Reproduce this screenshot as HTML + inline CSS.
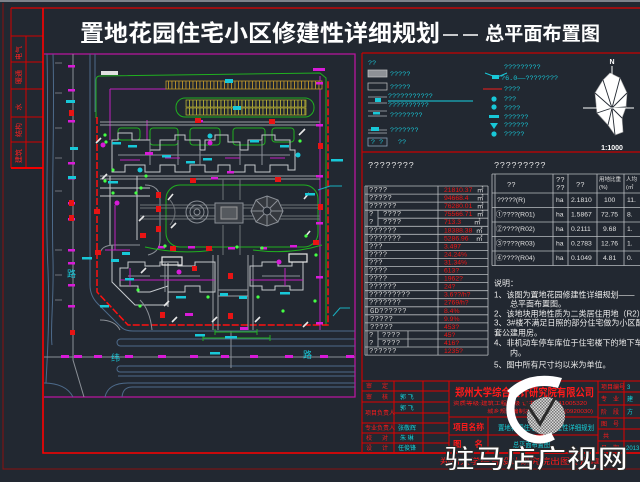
<!DOCTYPE html>
<html><head><meta charset="utf-8">
<style>
html,body{margin:0;padding:0;background:#222831;}
body{width:640px;height:482px;overflow:hidden}
svg{display:block}
.s{font-family:"Liberation Sans","Noto Sans CJK SC",sans-serif}
.m{font-family:"Liberation Mono","Noto Sans CJK SC",monospace}
</style></head><body>
<svg width="640" height="482" viewBox="0 0 640 482" xmlns="http://www.w3.org/2000/svg">
<defs>
<clipPath id="site"><rect x="44" y="54" width="311" height="343"/></clipPath>
<pattern id="stall" width="3.5" height="10" patternUnits="userSpaceOnUse"><rect width="3.5" height="10" fill="#222831"/><rect width="0.9" height="10" fill="#c0962a"/></pattern>
<pattern id="stall2" width="3.5" height="10" patternUnits="userSpaceOnUse"><rect width="3.5" height="10" fill="#222831"/><rect width="0.9" height="10" fill="#b8b034"/></pattern>
<pattern id="chk" width="3" height="3" patternUnits="userSpaceOnUse"><rect width="3" height="3" fill="#d8d8d8"/><rect width="1.5" height="1.5" fill="#777"/><rect x="1.5" y="1.5" width="1.5" height="1.5" fill="#777"/></pattern>
</defs>
<rect width="640" height="482" fill="#222831"/>
<rect x="0" y="0" width="640" height="2" fill="#7d828a"/>

<!-- frames -->
<g fill="none">
<path d="M3,3 V469 H640" stroke="#8c1010" stroke-width="1"/>
<path d="M11,8 H640" stroke="#e00000" stroke-width="1.2"/>
<path d="M11,8 V168 M26,36 V168" stroke="#d40000" stroke-width="1"/>
<path d="M11,36 H43 M11,62 H43 M11,89 H43 M11,117 H43 M11,142 H43" stroke="#d40000"/>
<path d="M11,168 H43" stroke="#f00000" stroke-width="2"/>
<path d="M43,8 V453 H640" stroke="#ff0000" stroke-width="1.6"/>
<path d="M44,54 H355 V397 H44" stroke="#b8169e" stroke-width="1.3"/>
<path d="M362,53 V453 M362,53 H640 M362,152 H640" stroke="#c80000" stroke-width="1.2"/>
</g>

<!-- left strip text (rotated) -->
<g class="s" fill="#ff2020" font-size="7" text-anchor="middle">
<text transform="translate(21,53) rotate(-90)">电气</text>
<text transform="translate(21,77) rotate(-90)">暖通</text>
<text transform="translate(21,107) rotate(-90)">水</text>
<text transform="translate(21,130) rotate(-90)">结构</text>
<text transform="translate(21,156) rotate(-90)">建筑</text>
</g>

<!-- title -->
<text class="s" x="80" y="41" font-size="23" font-weight="bold" fill="#ffffff" textLength="360" lengthAdjust="spacingAndGlyphs">置地花园住宅小区修建性详细规划</text>
<path d="M443,35 H458 M463,35 H478" stroke="#fff" stroke-width="1.5"/>
<text class="s" x="485" y="40" font-size="19" font-weight="bold" fill="#ffffff" textLength="115" lengthAdjust="spacingAndGlyphs">总平面布置图</text>

<!-- SITE PLAN -->
<g clip-path="url(#site)" fill="none" stroke-width="1">
<path stroke="#4d6a8a" d="M47,54 C49,130 45,210 48,270 C50,320 47,360 46,383"/>
<path stroke="#4d6a8a" d="M53,54 C55,120 51,200 53,260 C54,300 50,330 52,345"/>
<path stroke="#4d6a8a" d="M43,383 Q66,383 73,397"/>
<path stroke="#8a8f96" d="M73,54 V360 L84,397"/>
<path stroke="#4d6a8a" d="M90,54 V285 Q90,296 98,304 L121,327 Q125,331 133,331 H355"/>
<path stroke="#4d6a8a" d="M95,54 V112"/>
<g stroke="#8a8f96" stroke-width="0.8"><path d="M55,63 H62 M55,93 H62 M55,128 H62 M55,158 H62 M55,191 H62 M55,250 H62 M55,275 H62 M55,300 H62"/></g>
<rect x="117" y="339" width="260" height="7" rx="3.5" stroke="#4d6a8a"/>
<path stroke="#8a8f96" d="M44,357 H355"/>
<rect x="117" y="366" width="260" height="6" rx="3" stroke="#4d6a8a"/>
<path stroke="#4d6a8a" d="M118,376 H355"/>
<path stroke="#4d6a8a" d="M105,397 Q108,383 128,383 H355"/>
<path stroke="#4d6a8a" d="M122,397 Q123,387 132,387 H355"/>
<path stroke="#8a8f96" d="M231,331 V368"/>
<path stroke="#20b020" d="M96,118 V80 Q96,76 100,76 L320,73 L326,78 V325"/>
<path stroke="#ff1010" stroke-width="1.5" stroke-dasharray="7,2" d="M97,117 V292 L128,325 H328 V80"/>
<path stroke="#c020c0" d="M110,89 H166 M110,89 V140 M147,120 V140 M320,76 V330"/>
<rect x="166" y="81" width="156" height="8" fill="url(#stall)" stroke="#c0962a" stroke-width="0.8"/>
<rect x="176" y="98" width="138" height="19" rx="9" stroke="#20b020"/>
<rect x="186" y="100" width="120" height="7" fill="url(#stall2)" stroke="#b8b034" stroke-width="0.7"/>
<rect x="186" y="108" width="120" height="7" fill="url(#stall2)" stroke="#b8b034" stroke-width="0.7"/>
<path stroke="#9a9ea4" d="M100,122 H320 M100,125 H320 M100,176 H320 M100,179 H320"/>
<g stroke="#20b020"><rect x="150" y="128" width="28" height="17" rx="3"/><rect x="190" y="128" width="30" height="17" rx="3"/><rect x="233" y="128" width="32" height="17" rx="3"/><rect x="272" y="128" width="22" height="14" rx="3"/><rect x="118" y="128" width="22" height="12" rx="3"/></g>
<polygon stroke="#c4c8cc" points="112,140 118,140 118,133 132,133 132,140 150,140 150,150 160,150 160,140 175,140 175,135 185,135 185,140 200,140 200,150 205,150 205,140 215,140 215,135 228,135 228,142 240,142 240,150 248,150 248,140 262,140 262,135 275,135 275,140 290,140 290,150 295,150 295,170 288,170 288,165 270,165 270,172 255,172 255,165 245,165 245,172 230,172 230,165 218,165 218,172 205,172 205,165 190,165 190,172 175,172 175,165 160,165 160,172 145,172 145,165 125,165 125,172 112,172"/>
<path stroke="#8a8f96" d="M118,155 H290 M150,140 V165 M200,150 V165 M240,150 V165 M262,140 V165 M178,140 V165"/>
<path stroke="#c020c0" d="M120,160 H140 M165,158 H180 M225,158 H240 M270,158 H285"/>
<path stroke="#c4c8cc" d="M110,176 V245 M137,176 V240 M100,188 H150 M100,196 H150 M112,245 V282 L135,305 H168 M168,263 V307"/>
<path stroke="#8a8f96" d="M145,185 Q160,185 160,200 V240 Q160,252 148,255 M100,255 Q100,245 115,245 H140 M140,300 Q150,310 152,330 M100,320 Q115,320 120,330"/>
<path stroke="#c020c0" d="M115,205 V250 M105,250 H130"/>
<rect x="166" y="185" width="152" height="62" rx="14" stroke="#20b020"/>
<path stroke="#6e7378" d="M140,205 H320 M140,208 H320 M140,216 H320 M140,219 H320 M223,179 V200 M240,179 V200 M223,225 V255 M240,225 V255 M170,200 Q180,212 170,225"/>
<circle cx="197" cy="212" r="11" stroke="#8a8f96"/><circle cx="197" cy="212" r="7" stroke="#8a8f96"/><circle cx="197" cy="212" r="3" stroke="#8a8f96"/>
<rect x="215" y="203" width="28" height="20" stroke="#8a8f96" fill="#3a3f46"/>
<rect x="221" y="207" width="16" height="12" stroke="#999" fill="#55595e"/>
<polygon stroke="#8a8f96" fill="#34383e" points="267,196 278,200 283,211 278,222 267,226 256,222 251,211 256,200"/>
<path stroke="#8a8f96" d="M267,196 V226 M251,211 H283 M256,200 L278,222 M278,200 L256,222"/>
<circle cx="267" cy="211" r="4" fill="#222831" stroke="#8a8f96"/>
<path stroke="#9a9ea4" d="M213,255 V330 M218,255 V330 M248,255 V330 M253,255 V330 M218,290 H248 M218,296 H248"/>
<polygon stroke="#c4c8cc" points="120,268 128,268 128,262 145,262 145,266 160,266 160,262 178,262 178,266 195,266 195,262 215,262 215,292 200,292 200,286 185,286 185,292 168,292 168,286 150,292 138,292 138,286 120,286"/>
<polygon stroke="#c4c8cc" points="250,266 262,266 262,262 278,262 278,266 292,266 292,262 303,262 303,290 290,290 290,286 275,286 275,290 262,290 262,286 250,286"/>
<path stroke="#8a8f96" d="M165,262 V292 M160,276 H200 M262,276 H300 M128,276 H150"/>
<path stroke="#c020c0" d="M120,280 H215 M250,280 H303 M130,268 V286 M285,268 V286"/>
<rect x="162" y="257" width="20" height="8" stroke="#e8e8e8" stroke-width="1.2"/>
<rect x="289" y="254" width="18" height="8" stroke="#e8e8e8" stroke-width="1.2"/>
<path stroke="#20b020" d="M145,247 Q180,255 213,250 M253,250 Q290,255 322,245 M215,332 H257 M203,338 H270 M215,329 V335 M257,329 V335 M203,335 V341 M270,335 V341"/>
<g stroke="#e8e8e8" stroke-width="1.6">
<path d="M96,143 L101,138 M168,200 L173,194 M299,135 L305,129 M171,228 L176,223 M164,306 L169,301 M212,322 L217,317 M255,322 L260,317 M305,237 L310,231 M304,199 L309,193 M139,221 L144,216 M102,179 L107,174 M141,273 L146,268 M303,327 L308,322 M172,322 L177,317"/>
</g>
</g>
<g fill="#d81bd8">
<rect x="68" y="65" width="7" height="2.5"/><rect x="68" y="89" width="7" height="2.5"/><rect x="68" y="120" width="7" height="2.5"/><rect x="68" y="162" width="7" height="2.5"/><rect x="68" y="177" width="7" height="2.5"/><rect x="68" y="202" width="7" height="2.5"/><rect x="68" y="218" width="7" height="2.5"/><rect x="68" y="249" width="7" height="2.5"/><rect x="68" y="262" width="7" height="2.5"/><rect x="68" y="284" width="7" height="2.5"/><rect x="68" y="305" width="7" height="2.5"/>
<rect x="316" y="82" width="7" height="2.5"/><rect x="316" y="124" width="7" height="2.5"/><rect x="316" y="175" width="7" height="2.5"/><rect x="316" y="222" width="7" height="2.5"/><rect x="316" y="276" width="7" height="2.5"/><rect x="316" y="322" width="7" height="2.5"/>
<rect x="61" y="355" width="8" height="3"/><rect x="74" y="355" width="8" height="3"/><rect x="94" y="355" width="8" height="3"/><rect x="125" y="355" width="8" height="3"/><rect x="158" y="355" width="8" height="3"/><rect x="190" y="355" width="8" height="3"/><rect x="221" y="355" width="8" height="3"/><rect x="250" y="355" width="8" height="3"/><rect x="285" y="355" width="8" height="3"/><rect x="320" y="355" width="8" height="3"/><rect x="346" y="355" width="8" height="3"/>
<rect x="196" y="120" width="7" height="2.5"/><rect x="227" y="171" width="7" height="2.5"/><rect x="211" y="177" width="7" height="2.5"/><rect x="145" y="152" width="8" height="3"/><rect x="158" y="246" width="7" height="2.5"/><rect x="188" y="246" width="7" height="2.5"/><rect x="228" y="247" width="7" height="2.5"/><rect x="260" y="247" width="7" height="2.5"/><rect x="290" y="245" width="7" height="2.5"/><rect x="185" y="313" width="8" height="3"/><rect x="240" y="327" width="8" height="3"/>
<circle cx="103" cy="145" r="2.5"/><circle cx="117" cy="203" r="2.5"/><circle cx="210" cy="143" r="2.5"/><circle cx="279" cy="262" r="2.5"/><circle cx="179" cy="272" r="2.5"/>
<rect x="313" y="68" width="12" height="3"/>
</g>
<g fill="#e81414">
<rect x="69" y="110" width="5" height="6"/><rect x="69" y="200" width="5" height="6"/><rect x="69" y="215" width="5" height="6"/><rect x="94" y="209" width="6" height="5"/><rect x="95" y="250" width="6" height="5"/><rect x="156" y="192" width="5" height="6"/><rect x="156" y="206" width="5" height="6"/><rect x="156" y="226" width="5" height="6"/><rect x="195" y="118" width="6" height="5"/><rect x="269" y="119" width="6" height="5"/><rect x="318" y="143" width="5" height="6"/><rect x="318" y="204" width="5" height="6"/><rect x="190" y="178" width="6" height="5"/><rect x="275" y="177" width="6" height="5"/><rect x="140" y="233" width="6" height="5"/><rect x="170" y="246" width="6" height="5"/><rect x="206" y="246" width="6" height="5"/><rect x="313" y="240" width="6" height="5"/><rect x="228" y="273" width="5" height="6"/><rect x="228" y="313" width="5" height="6"/><rect x="160" y="312" width="5" height="6"/><rect x="70" y="330" width="5" height="5"/><rect x="192" y="266" width="5" height="5"/>
</g>
<g fill="#18c8d8">
<rect x="66" y="100" width="9" height="3"/><rect x="70" y="147" width="8" height="3"/><rect x="68" y="176" width="8" height="3"/><rect x="112" y="142" width="9" height="2.5"/><rect x="128" y="145" width="9" height="2.5"/><rect x="162" y="155" width="9" height="2.5"/><rect x="186" y="161" width="9" height="2.5"/><rect x="203" y="158" width="9" height="2.5"/><rect x="233" y="106" width="8" height="4"/><rect x="250" y="140" width="9" height="2.5"/><rect x="280" y="145" width="9" height="2.5"/><rect x="111" y="259" width="8" height="3"/><rect x="125" y="278" width="9" height="2.5"/><rect x="122" y="252" width="8" height="3"/><rect x="176" y="296" width="10" height="2.5"/><rect x="220" y="293" width="8" height="3"/><rect x="239" y="296" width="8" height="3"/><rect x="280" y="292" width="10" height="2.5"/><rect x="195" y="334" width="10" height="2.5"/><rect x="225" y="336" width="12" height="2.5"/><rect x="210" y="352" width="10" height="2.5"/><rect x="331" y="159" width="12" height="2.5"/><rect x="305" y="193" width="10" height="2.5"/><rect x="100" y="305" width="9" height="2.5"/><rect x="82" y="257" width="10" height="2.5"/><rect x="225" y="79" width="8" height="4"/><rect x="108" y="181" width="10" height="2.5"/>
<circle cx="298" cy="155" r="2.5"/><circle cx="210" cy="136" r="2.5"/><circle cx="140" cy="170" r="2.5"/>
</g>
<path d="M318,190 L330,186 H342 M333,316 L340,308 H350" stroke="#18b0c0" fill="none"/>
<g fill="#44ff44">
<circle cx="105" cy="135" r="1.6"/><circle cx="106" cy="142" r="1.6"/><circle cx="113" cy="170" r="1.6"/><circle cx="105" cy="181" r="1.6"/><circle cx="113" cy="193" r="1.6"/><circle cx="136" cy="193" r="1.6"/><circle cx="141" cy="188" r="1.6"/><circle cx="146" cy="176" r="1.6"/><circle cx="165" cy="246" r="1.6"/><circle cx="237" cy="247" r="1.6"/><circle cx="262" cy="248" r="1.6"/><circle cx="306" cy="236" r="1.6"/><circle cx="316" cy="255" r="1.6"/><circle cx="315" cy="301" r="1.6"/><circle cx="283" cy="311" r="1.6"/><circle cx="140" cy="306" r="1.6"/><circle cx="138" cy="290" r="1.6"/><circle cx="208" cy="297" r="1.6"/><circle cx="258" cy="297" r="1.6"/><circle cx="300" cy="141" r="1.6"/>
</g>
<rect x="101" y="71" width="17" height="4" fill="#e0e0e0"/>
<g class="s" fill="#18c8d8" font-size="9">
<text x="67" y="277">路</text><text x="111" y="361">纬</text><text x="303" y="358">路</text>
</g>

<!-- LEGEND -->
<g class="m" fill="#18c8d8" font-size="6.8">
<text x="368" y="65">??</text>
<rect x="368" y="70" width="19" height="7" fill="#8e9196" stroke="#c8c8c8" stroke-width="0.7"/>
<text x="390" y="76">?????</text>
<rect x="368" y="83" width="19" height="7" fill="none" stroke="#c8c8c8" stroke-width="0.7"/>
<text x="390" y="89">?????</text>
<path d="M368,97 H387 M368,103 H387" stroke="#8a8f96"/><rect x="375" y="98" width="6" height="4" fill="#18c8d8"/>
<text x="388" y="98">???????????</text>
<path d="M388,101 H473" stroke="#18b0c0" stroke-width="1.2"/>
<text x="388" y="107">??????????</text>
<path d="M368,111 H387 M368,116 H387" stroke="#8a8f96"/><rect x="373" y="112" width="7" height="2.5" fill="#18c8d8"/>
<text x="390" y="117">????????</text>
<path d="M368,130 H387 M368,133 H387" stroke="#8a8f96"/><rect x="371" y="127" width="8" height="4" fill="#18c8d8"/>
<text x="390" y="132">???????</text>
<rect x="368" y="138" width="19" height="8" fill="none" stroke="#8aa0b8" stroke-width="0.8"/>
<text x="371" y="144">? ?</text>
<text x="398" y="144">??</text>
<text x="504" y="69">?????????</text>
<path d="M485,73 L493,76 H500 L507,73" stroke="#18c8d8" fill="none"/><rect x="492" y="75" width="7" height="4"/>
<text x="501" y="80">?6.0——????????</text>
<path d="M483,89 H502" stroke="#c82020" stroke-width="1.2"/>
<text x="504" y="91">????</text>
<circle cx="494" cy="99" r="2.6"/><text x="504" y="101">???</text>
<circle cx="494" cy="107" r="2.6"/><text x="504" y="110">????</text>
<rect x="489" y="115" width="10" height="3"/><text x="504" y="119">??????</text>
<path d="M490,123 H498 L494,129 Z"/><text x="504" y="127">??????</text>
<circle cx="494" cy="134" r="2.6"/><text x="504" y="136">?????</text>
</g>

<!-- north arrow -->
<text class="s" x="612" y="64" font-size="7" fill="#fff" text-anchor="middle" font-weight="bold">N</text>
<polygon points="610,73 620,78 627,93 626,107 622,118 623,132 615,135 608,125 597,113 595,93 603,80" fill="#ffffff" stroke="#aaa" stroke-width="0.6"/>
<g stroke="#222831" stroke-width="0.9" fill="none">
<path d="M612,108 L603,80 M612,108 L620,78 M612,108 L627,93 M612,108 L622,118 M612,108 L615,135 M612,108 L597,113 M612,108 L595,93 M612,108 L608,125 M612,108 L626,107"/>
</g>
<path d="M583,108 H634 M612,66 V82" stroke="#fff" stroke-width="1"/>
<text class="s" x="612" y="150" font-size="7" fill="#fff" text-anchor="middle" font-weight="bold">1:1000</text>

<g class="m" fill="#e0e0e0" font-size="9" letter-spacing="0.4">
<text x="368" y="168">????????</text>
<text x="494" y="168">?????????</text>
</g>

<!-- left table -->
<g stroke="#b8bcc0" stroke-width="0.8" fill="none">
<path d="M365,186 H488 M365,194.1 H488 M365,202.1 H488 M365,210.2 H488 M378,218.2 H488 M365,226.3 H488 M365,234.3 H488 M365,242.4 H488 M365,250.4 H488 M365,258.5 H488 M365,266.5 H488 M365,274.6 H488 M365,282.6 H488 M365,290.7 H488 M365,298.7 H488 M365,306.8 H488 M365,314.8 H488 M365,322.9 H488 M365,330.9 H488 M378,339 H488 M365,347 H488 M365,355.1 H488"/>
<path d="M365,186 V355.1 M367,186 V355.1 M438,186 V355.1 M488,186 V355.1 M378,210.2 V226.3 M378,330.9 V347 M408,330.9 V347"/>
</g>
<g class="m" fill="#d8d8d8" font-size="7.2" letter-spacing="0.3">
<text x="369" y="192">????</text>
<text x="369" y="200">?????</text>
<text x="369" y="208.1">??????</text>
<text x="369" y="216.2">?</text><text x="383" y="216.2">????</text>
<text x="369" y="224.2">?</text><text x="383" y="224.2">????</text>
<text x="369" y="232.3">??????</text>
<text x="369" y="240.3">???????</text>
<text x="369" y="248.4">???</text>
<text x="369" y="256.4">????</text>
<text x="369" y="264.5">???</text>
<text x="369" y="272.5">????</text>
<text x="369" y="280.6">????</text>
<text x="369" y="288.6">??????</text>
<text x="369" y="296.7">?????????</text>
<text x="369" y="304.7">???????</text>
<text x="370" y="312.8">GD??????</text>
<text x="370" y="320.8">?????</text>
<text x="370" y="328.9">?????</text>
<text x="369" y="336.9">?</text><text x="382" y="336.9">????</text>
<text x="369" y="345">?</text><text x="382" y="345">????</text>
<text x="369" y="353">??????</text>
</g>
<g class="s" fill="#f01414" font-size="6.8">
<text x="444" y="192">21810.37</text>
<text x="444" y="200">94668.4</text>
<text x="444" y="208.1">76280.01</text>
<text x="444" y="216.2">75566.71</text>
<text x="444" y="224.2">713.3</text>
<text x="444" y="232.3">18388.38</text>
<text x="444" y="240.3">5286.96</text>
<text x="444" y="248.4">3.497</text>
<text x="444" y="256.4">24.24%</text>
<text x="444" y="264.5">31.34%</text>
<text x="444" y="272.5">613?</text>
<text x="444" y="280.6">1962?</text>
<text x="444" y="288.6">24?</text>
<text x="444" y="296.7">3.6??/h?</text>
<text x="444" y="304.7">2769/h?</text>
<text x="444" y="312.8">8.4%</text>
<text x="444" y="320.8">9.9%</text>
<text x="444" y="328.9">453?</text>
<text x="444" y="336.9">45?</text>
<text x="444" y="345">416?</text>
<text x="444" y="353">1235?</text>
</g>
<g class="s" fill="#e0e0e0" font-size="6.5">
<text x="477" y="192">㎡</text><text x="477" y="200">㎡</text><text x="477" y="208.1">㎡</text><text x="477" y="216.2">㎡</text><text x="474" y="224.2">㎡</text><text x="476" y="232.3">㎡</text><text x="476" y="240.3">㎡</text>
</g>

<!-- right table -->
<g stroke="#b8bcc0" stroke-width="0.8" fill="none">
<path d="M492,174 H640 M492,193 H640 M492,207.5 H640 M492,222 H640 M492,236.5 H640 M492,251 H640 M492,265.5 H640"/>
<path d="M492,174 V265.5 M495,174 V265.5 M553,174 V265.5 M568,174 V265.5 M597,174 V265.5 M624,174 V265.5"/>
</g>
<g class="m" fill="#e0e0e0" font-size="7.2">
<text x="507" y="187">??</text>
<text x="556" y="182">??</text><text x="556" y="190">??</text>
<text x="576" y="187">??</text>
</g>
<g class="s" fill="#e0e0e0" font-size="5.5">
<text x="599" y="181">用地比重</text><text x="599" y="189">(%)</text>
<text x="626" y="181">人均</text><text x="626" y="189">(㎡</text>
</g>
<g class="s" fill="#e0e0e0" font-size="6.8">
<text x="497" y="202">?????(R)</text><text x="556" y="202">ha</text><text x="571" y="202">2.1810</text><text x="604" y="202">100</text><text x="627" y="202">11.</text>
<text x="496" y="216.5">①????(R01)</text><text x="556" y="216.5">ha</text><text x="571" y="216.5">1.5867</text><text x="601" y="216.5">72.75</text><text x="627" y="216.5">8.</text>
<text x="496" y="231">②????(R02)</text><text x="556" y="231">ha</text><text x="571" y="231">0.2111</text><text x="603" y="231">9.68</text><text x="627" y="231">1.</text>
<text x="496" y="245.5">③????(R03)</text><text x="556" y="245.5">ha</text><text x="571" y="245.5">0.2783</text><text x="601" y="245.5">12.76</text><text x="627" y="245.5">1.</text>
<text x="496" y="260">④????(R04)</text><text x="556" y="260">ha</text><text x="571" y="260">0.1049</text><text x="603" y="260">4.81</text><text x="627" y="260">0.</text>
</g>

<!-- notes -->
<g class="s" fill="#ececec" font-size="8">
<text x="494" y="286">说明：</text>
<text x="494" y="297.5">1、该图为置地花园修建性详细规划——</text>
<text x="510" y="306.5">总平面布置图。</text>
<text x="494" y="316.5">2、该地块用地性质为二类居住用地（R2）。</text>
<text x="494" y="325.5">3、3#楼不满足日照的部分住宅做为小区配</text>
<text x="494" y="335.5">套公建用房。</text>
<text x="494" y="345.5">4、非机动车停车库位于住宅楼下的地下车库</text>
<text x="510" y="355.5">内。</text>
<text x="494" y="367.5">5、图中所有尺寸均以米为单位。</text>
</g>

<!-- title block -->
<g stroke="#e00000" stroke-width="1" fill="none">
<path d="M362,381 H640 M362,391 H449 M362,402 H449 M394,413 H449 M362,423 H449 M362,433 H449 M362,443 H449"/>
<path d="M394,381 V453 M423,381 V453 M449,381 V453 M598,381 V453 M624,381 V453 M449,417 H598 M449,435 H598 M488,417 V453"/>
<path d="M598,392 H640 M598,405 H640 M598,418 H640 M598,429 H640 M598,441 H640"/>
</g>
<g class="s" fill="#ff1a1a" font-size="6">
<text x="366" y="388" textLength="22" lengthAdjust="spacing">审 定</text>
<text x="366" y="399" textLength="22" lengthAdjust="spacing">审 核</text>
<text x="365" y="415">项目负责人</text>
<text x="365" y="430">专业负责人</text>
<text x="366" y="440" textLength="22" lengthAdjust="spacing">校 对</text>
<text x="366" y="450" textLength="22" lengthAdjust="spacing">设 计</text>
<text x="601" y="389">项目编号</text>
<text x="601" y="401" textLength="18" lengthAdjust="spacing">专 业</text>
<text x="601" y="414" textLength="18" lengthAdjust="spacing">阶 段</text>
<text x="601" y="426" textLength="18" lengthAdjust="spacing">图 号</text>
<text x="603" y="438">共</text>
<text x="601" y="450" textLength="18" lengthAdjust="spacing">日 期</text>
</g>
<g class="s" fill="#18d0d8" font-size="6">
<text x="400" y="399">郭 飞</text>
<text x="400" y="410">郭 飞</text>
<text x="398" y="430">张敬辉</text>
<text x="400" y="440">朱 琳</text>
<text x="398" y="450">任俊锋</text>
<text x="627" y="389">3</text>
<text x="627" y="401">建</text>
<text x="627" y="414">方</text>
<text x="626" y="450">2013</text>
<text x="498" y="430" textLength="96" lengthAdjust="spacingAndGlyphs" font-size="7">置地花园住宅小区修建性详细规划</text>
<text x="513" y="447" textLength="37" lengthAdjust="spacingAndGlyphs" font-size="7">总平面布置图</text>
</g>
<g class="s" fill="#ff1a1a">
<text x="455" y="396" font-size="11" font-weight="bold" textLength="139" lengthAdjust="spacingAndGlyphs">郑州大学综合设计研究院有限公司</text>
<text x="453" y="405" font-size="5" textLength="134" lengthAdjust="spacingAndGlyphs">资质等级:建筑工程甲级 证书编号:A141005320</text>
<text x="487" y="413" font-size="5" textLength="106" lengthAdjust="spacingAndGlyphs">城乡规划编制乙级 证书编号(0920030)</text>
<text x="453" y="430" font-size="8.5" font-weight="bold" textLength="31" lengthAdjust="spacingAndGlyphs">项目名称</text>
<text x="453" y="447" font-size="8.5" font-weight="bold" textLength="30" lengthAdjust="spacing">图 名</text>
<text x="440" y="464" font-size="8" textLength="160" lengthAdjust="spacingAndGlyphs">郑州大学综合设计研究院出图专用章</text>
</g>

<!-- logo -->
<circle cx="546" cy="416" r="19" fill="url(#chk)"/>
<path d="M514,392 Q503,420 526,436 Q540,443 553,436" stroke="#ffffff" stroke-width="8" fill="none"/>
<path d="M507,391 Q528,370 562,378 L558,388 Q532,381 516,398 Z" fill="#ffffff"/>
<path d="M524,400 L540,424 L555,398" stroke="#2a2a2a" stroke-width="3" fill="none"/>

<!-- watermark -->
<text class="s" x="444" y="468" font-size="26" font-weight="bold" fill="#ffffff" stroke="#2a2a2a" stroke-width="1" textLength="184" lengthAdjust="spacingAndGlyphs">驻马店广视网</text>
</svg>
</body></html>
